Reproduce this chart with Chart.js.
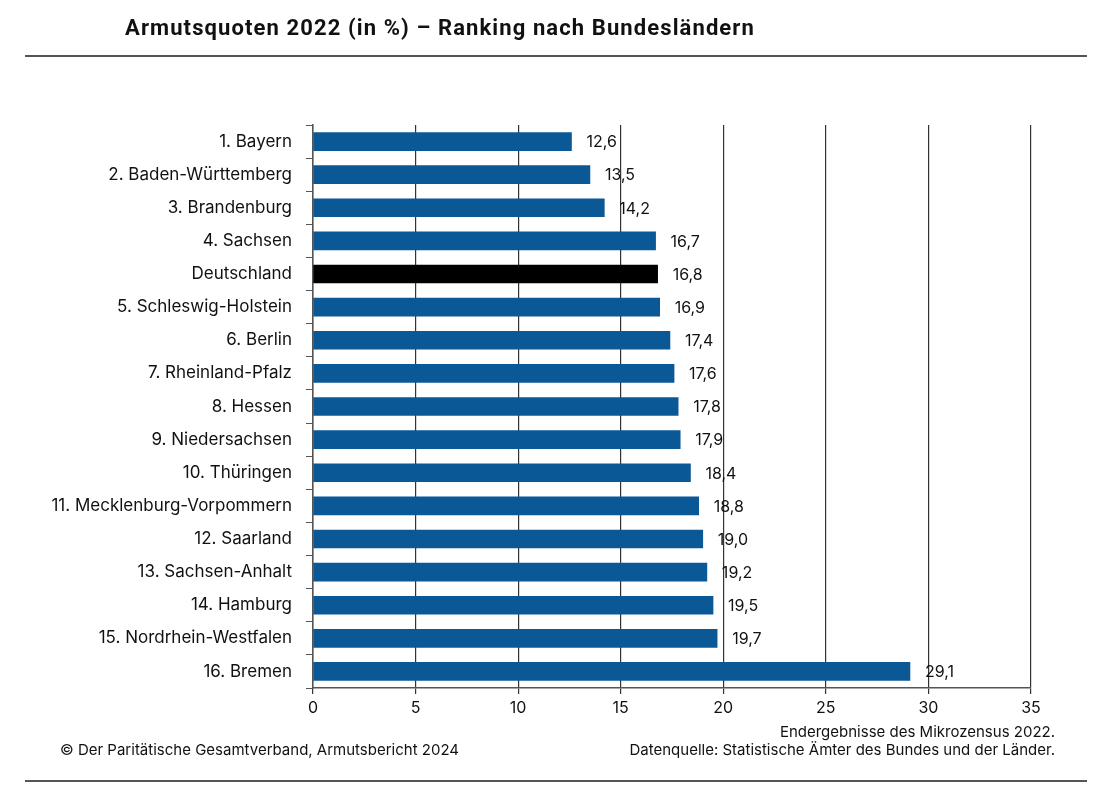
<!DOCTYPE html>
<html>
<head>
<meta charset="utf-8">
<script src="https://cdn.jsdelivr.net/npm/chart.js@4/dist/chart.umd.min.js"></script>
<style>
  body { margin: 0; background: #fff; font-family: Inter, "Noto Sans", sans-serif; }
  #wrap { position: relative; width: 1107px; height: 794px; overflow: hidden; }
  #chart { position: absolute; left: 0; top: 0; }
  .title { position: absolute; left: 125px; top: 15px; font: bold 22px Roboto, sans-serif; letter-spacing: 1.1px; color: #111; }
  .rule { position: absolute; left: 25px; width: 1062px; height: 2px; background: #555; }
  .foot { position: absolute; font-size: 15px; color: #111; white-space: nowrap; }
</style>
</head>
<body>
<div id="wrap">
  <canvas id="chart" width="1107" height="794"></canvas>
  <div class="title">Armutsquoten 2022 (in %) – Ranking nach Bundesländern</div>
  <div class="rule" style="top:55px"></div>
  <div class="foot" style="right:52px; top:722px">Endergebnisse des Mikrozensus 2022.</div>
  <div class="foot" style="right:52px; top:740px">Datenquelle: Statistische Ämter des Bundes und der Länder.</div>
  <div class="foot" style="left:60px; top:740px">© Der Paritätische Gesamtverband, Armutsbericht 2024</div>
  <div class="rule" style="top:780px"></div>
</div>
<script>
var regions = [
  '1. Bayern', '2. Baden-Württemberg', '3. Brandenburg', '4. Sachsen', 'Deutschland',
  '5. Schleswig-Holstein', '6. Berlin', '7. Rheinland-Pfalz', '8. Hessen', '9. Niedersachsen',
  '10. Thüringen', '11. Mecklenburg-Vorpommern', '12. Saarland', '13. Sachsen-Anhalt',
  '14. Hamburg', '15. Nordrhein-Westfalen', '16. Bremen'
];
var povertyRates = [12.6, 13.5, 14.2, 16.7, 16.8, 16.9, 17.4, 17.6, 17.8, 17.9, 18.4, 18.8, 19.0, 19.2, 19.5, 19.7, 29.1];
var xTicks = [0, 5, 10, 15, 20, 25, 30, 35];

function barColor(label) {
  return label === 'Deutschland' ? '#000000' : '#0b5897';
}

// value labels right of each bar, German decimal comma
var valueLabels = {
  id: 'valueLabels',
  afterDatasetsDraw: function(chart) {
    var ctx = chart.ctx;
    var meta = chart.getDatasetMeta(0);
    ctx.save();
    ctx.font = '16px Inter, sans-serif';
    ctx.fillStyle = '#111';
    ctx.textAlign = 'left';
    ctx.textBaseline = 'middle';
    meta.data.forEach(function(bar, i) {
      var txt = povertyRates[i].toFixed(1).replace('.', ',');
      ctx.fillText(txt, bar.x + 15, bar.y + 1);
    });
    ctx.restore();
  }
};

new Chart(document.getElementById('chart'), {
  type: 'bar',
  data: {
    labels: regions,
    datasets: [{
      data: povertyRates,
      backgroundColor: regions.map(barColor),
      borderWidth: 0,
      barThickness: 18
    }]
  },
  options: {
    indexAxis: 'y',
    responsive: false,
    animation: false,
    layout: { padding: { left: 0, right: 76, top: 125, bottom: 71 } },
    plugins: { legend: { display: false }, tooltip: { enabled: false } },
    scales: {
      x: {
        min: 0,
        max: 35,
        afterBuildTicks: function(scale) {
          scale.ticks = xTicks.map(function(v) { return { value: v }; });
        },
        afterFit: function(scale) { scale.height = 35; },
        grid: { color: '#333', lineWidth: 1.2, tickLength: 6 },
        border: { color: '#555', width: 1.5 },
        ticks: { color: '#111', font: { family: 'Inter', size: 16 }, padding: 5 }
      },
      y: {
        afterFit: function(scale) { scale.width = 313; },
        grid: { drawOnChartArea: false, offset: true, tickLength: 7, color: '#555' },
        border: { color: '#555', width: 1.5 },
        ticks: { color: '#111', font: { family: 'Inter', size: 17 }, padding: 14 }
      }
    }
  },
  plugins: [valueLabels]
});
</script>
</body>
</html>
